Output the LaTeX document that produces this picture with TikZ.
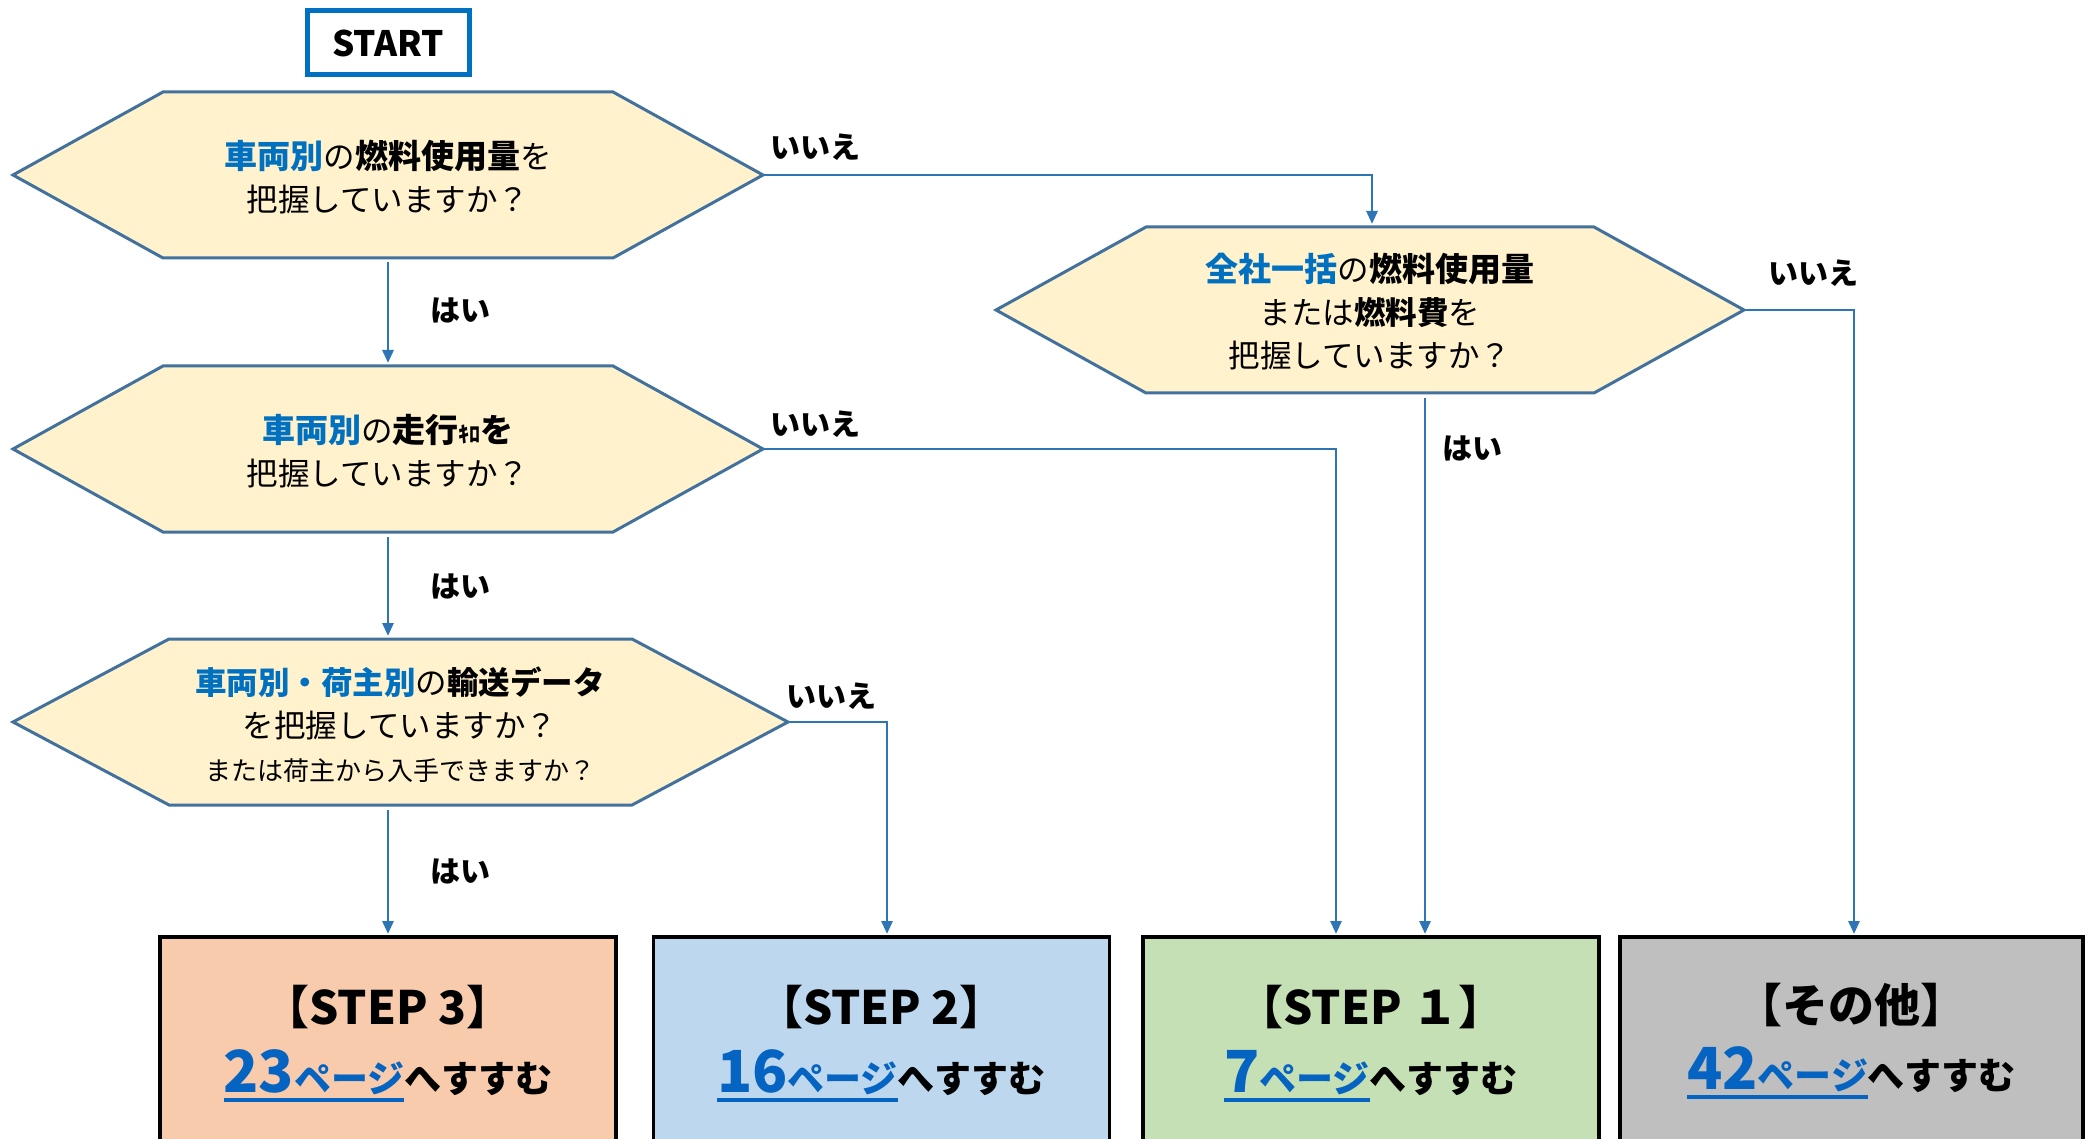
\documentclass[tikz,border=0pt]{standalone}
\usepackage{fontspec}
\newfontfamily\jp{Noto Sans CJK JP}
\usetikzlibrary{arrows.meta}
\definecolor{hexfill}{HTML}{FFF2CC}
\definecolor{hexdraw}{HTML}{41719C}
\definecolor{arrc}{HTML}{2E75B6}
\definecolor{keyblue}{HTML}{0070C0}
\definecolor{pageblue}{HTML}{0563C1}
\definecolor{stepthree}{HTML}{F8CBAD}
\definecolor{steptwo}{HTML}{BDD7EE}
\definecolor{stepone}{HTML}{C5E0B4}
\definecolor{stepother}{HTML}{BFBFBF}
\newcommand\pgund[1]{\setbox0\hbox{#1}\rlap{\rule[-10pt]{\wd0}{4pt}}\box0}
\newcommand\hexbox[5]{%
  \path[hexstyle] (#2-#4,#3) -- (#2-#4+#5,#3-83) -- (#2+#4-#5,#3-83) -- (#2+#4,#3)
    -- (#2+#4-#5,#3+83) -- (#2-#4+#5,#3+83) -- cycle;
  \coordinate (#1W) at (#2-#4,#3);
  \coordinate (#1E) at (#2+#4,#3);
}
\tikzset{
  hexstyle/.style={fill=hexfill,draw=hexdraw,line width=3pt,line join=miter},
  qtext/.style={font=\jp\fontsize{31.5}{43}\selectfont,align=center,text=black,inner sep=0pt},
  lbl/.style={font=\jp\bfseries\fontsize{30}{36}\selectfont,inner sep=0pt},
  arr/.style={draw=arrc,line width=2.7pt,-{Triangle[length=13pt,width=11pt]},shorten <=5pt,shorten >=3pt},
  stepbox/.style={draw=black,line width=3.5pt,minimum width=456pt,minimum height=230pt,inner sep=0pt},
  steptitle/.style={font=\jp\bfseries\fontsize{46}{50}\selectfont,inner sep=0pt},
  pagetext/.style={font=\jp\bfseries\fontsize{37}{50}\selectfont,inner sep=0pt,anchor=base},
  startbox/.style={draw=keyblue,line width=5pt,fill=white,minimum width=162pt,minimum height=64pt,font=\jp\bfseries\fontsize{35}{38}\selectfont}
}
\begin{document}
\begin{tikzpicture}[x=1pt,y=-1pt]
\useasboundingbox (0,0) rectangle (2091,1139);
% start
\node[startbox] (start) at (388,43) {START};
% hexagons
\hexbox{hA}{388}{175}{375}{150}
\hexbox{hB}{388}{449}{375}{150}
\hexbox{hC}{400.5}{722}{387.5}{156}
\hexbox{hD}{1370}{310}{374}{150}
\node[qtext] (qA) at (388,177) {{\bfseries\fontsize{33}{43}\selectfont\color{keyblue}車両別}の{\bfseries\fontsize{33}{43}\selectfont 燃料使用量}を\\把握していますか？};
\node[qtext] (qB) at (388,451) {{\bfseries\fontsize{33}{43}\selectfont\color{keyblue}車両別}の{\bfseries\fontsize{33}{43}\selectfont 走行{\fontsize{22}{24}\selectfont ｷﾛ}を}\\把握していますか？};
\node[qtext] (qC) at (400,725) {{\bfseries\color{keyblue}車両別・荷主別}の{\bfseries 輸送データ}\\を把握していますか？\\{\fontsize{26}{40}\selectfont または荷主から入手できますか？}};
\node[qtext] (qD) at (1370,312) {{\bfseries\fontsize{33}{43}\selectfont\color{keyblue}全社一括}の{\bfseries\fontsize{33}{43}\selectfont 燃料使用量}\\または{\bfseries 燃料費}を\\把握していますか？};
\coordinate (hAS) at (388,257);
\coordinate (hBN) at (388,366);
\coordinate (hBS) at (388,532);
\coordinate (hCN) at (388,639);
\coordinate (hCS) at (388,805);
\coordinate (hDN) at (1372,227);
\coordinate (hDS) at (1425,393);
% result boxes
\node[stepbox,fill=stepthree] (b3) at (388,1052) {};
\node[stepbox,fill=steptwo] (b2) at (881.5,1052) {};
\node[stepbox,fill=stepone] (b1) at (1371,1052) {};
\node[stepbox,fill=stepother,minimum width=463pt] (b0) at (1851.5,1052) {};
\coordinate (b3in) at (388,937);
\coordinate (b2in) at (887,937);
\coordinate (b1inA) at (1336,937);
\coordinate (b1inB) at (1425,937);
\coordinate (b0in) at (1854,937);
\node[steptitle] (t3) at (388,1007) {【STEP 3】};
\node[steptitle] (t2) at (881.5,1007) {【STEP 2】};
\node[steptitle] (t1) at (1371,1007) {【STEP １】};
\node[steptitle] (t0) at (1851.5,1005) {【その他】};
\node[pagetext] (p3) at (388,1092) {{\color{pageblue}\pgund{{\fontsize{58}{60}\selectfont 23}ページ}}へすすむ};
\node[pagetext] (p2) at (881.5,1092) {{\color{pageblue}\pgund{{\fontsize{58}{60}\selectfont 16}ページ}}へすすむ};
\node[pagetext] (p1) at (1371,1092) {{\color{pageblue}\pgund{{\fontsize{58}{60}\selectfont 7}ページ}}へすすむ};
\node[pagetext] (p0) at (1851.5,1089) {{\color{pageblue}\pgund{{\fontsize{58}{60}\selectfont 42}ページ}}へすすむ};
% connectors
\draw[arr] (hAS) -- (hBN);
\draw[arr] (hBS) -- (hCN);
\draw[arr] (hCS) -- (b3in);
\draw[arr,shorten <=0pt] (hAE) -| (hDN);
\draw[arr,shorten <=0pt] (hBE) -| (b1inA);
\draw[arr,shorten <=0pt] (hCE) -| (b2in);
\draw[arr] (hDS) -- (b1inB);
\draw[arr,shorten <=0pt] (hDE) -| (b0in);
% labels
\node[lbl] (yA) at (460,311) {はい};
\node[lbl] (yB) at (460,587) {はい};
\node[lbl] (yC) at (460,871) {はい};
\node[lbl] (yD) at (1472,449) {はい};
\node[lbl] (nA) at (815,147) {いいえ};
\node[lbl] (nB) at (815,424) {いいえ};
\node[lbl] (nC) at (831,696) {いいえ};
\node[lbl] (nD) at (1813,273) {いいえ};
\end{tikzpicture}
\end{document}
